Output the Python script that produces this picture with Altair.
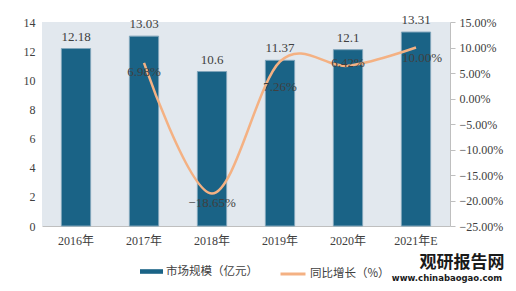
import altair as alt
import pandas as pd

years = ["2016年", "2017年", "2018年", "2019年", "2020年", "2021年E"]
market = [12.18, 13.03, 10.6, 11.37, 12.1, 13.31]
market_labels = ["12.18", "13.03", "10.6", "11.37", "12.1", "13.31"]
growth = [None, 6.98, -18.65, 7.26, 6.42, 10.00]

df = pd.DataFrame({"year": years, "market": market, "mlabel": market_labels, "growth": growth})

SERIF = "'Liberation Serif', 'Noto Sans CJK SC'"
CJK = "'Noto Sans CJK SC'"
BAR = "#1a6386"
LINE = "#f4b183"
TXT = "#404040"

x = alt.X("year:N", sort=years, title=None,
          scale=alt.Scale(paddingInner=0.57, paddingOuter=0.285),
          axis=alt.Axis(labelAngle=0, ticks=False, domainColor="#bfbfbf",
                        labelPadding=9, labelFont=SERIF, labelFontSize=12, labelColor=TXT))

yscale = alt.Scale(domain=[0, 14], nice=False)
yaxis = alt.Axis(values=[0, 2, 4, 6, 8, 10, 12, 14], format="d", labelOverlap=False,
                 ticks=False, domain=False, grid=False,
                 labelPadding=7, labelFont=SERIF, labelFontSize=12, labelColor=TXT)
ybar = alt.Y("market:Q", title=None, scale=yscale, axis=yaxis)

base = alt.Chart(df)

bars = base.mark_bar(color=BAR, stroke="#7fa5ba", strokeWidth=1).encode(
    x=x, y=ybar,
    fill=alt.Fill("s:N", scale=alt.Scale(domain=["市场规模（亿元）"], range=[BAR]),
                  legend=alt.Legend(orient="none", legendX=98, legendY=238, title=None,
                                    symbolType="M-1,-0.2H1V0.2H-1Z", symbolSize=529,
                                    symbolStrokeWidth=0, labelFont=CJK, labelFontSize=11.5,
                                    labelColor=TXT, padding=0, labelOffset=3)),
).transform_calculate(s="'市场规模（亿元）'")

bar_text = base.mark_text(baseline="bottom", dy=-5, font=SERIF, fontSize=13, color=TXT).encode(
    x=x, y=ybar, text="mlabel:N")

left = alt.layer(bars, bar_text)

yline = alt.Y("growth:Q", title=None, scale=alt.Scale(domain=[-25, 15], nice=False),
              axis=alt.Axis(orient="right", values=[15, 10, 5, 0, -5, -10, -15, -20, -25],
                            labelExpr="format(datum.value, '.2f') + '%'", grid=False,
                            ticks=True, tickSize=5, tickColor="#bfbfbf", domainColor="#bfbfbf",
                            labelPadding=4, labelFont=SERIF, labelFontSize=12, labelColor=TXT))

lbase = base.transform_filter("isValid(datum.growth)").transform_calculate(
    glabel="format(datum.growth, '.2f') + '%'", s2="'同比增长（%）'")

line = lbase.mark_line(interpolate="cardinal", strokeWidth=2.5).encode(
    x=x, y=yline,
    stroke=alt.Stroke("s2:N", scale=alt.Scale(domain=["同比增长（%）"], range=[LINE]),
                      legend=alt.Legend(orient="none", legendX=237, legendY=238, title=None,
                                        symbolType="stroke", symbolSize=625, symbolStrokeWidth=3,
                                        labelFont=CJK, labelFontSize=11.5, labelColor=TXT,
                                        padding=0, labelOffset=3)),
)

t1 = lbase.transform_filter("datum.year == '2017年' || datum.year == '2018年'") \
    .mark_text(baseline="middle", dy=9, font=SERIF, fontSize=13, color=TXT).encode(
    x=x, y=yline, text="glabel:N")
t1b = lbase.transform_filter("datum.year == '2021年E'") \
    .mark_text(baseline="middle", dy=10, dx=6, font=SERIF, fontSize=13, color=TXT).encode(
    x=x, y=yline, text="glabel:N")
t2 = lbase.transform_filter("datum.year == '2019年'") \
    .mark_text(baseline="middle", dy=26, font=SERIF, fontSize=13, color=TXT).encode(
    x=x, y=yline, text="glabel:N")
t3 = lbase.transform_filter("datum.year == '2020年'") \
    .mark_text(baseline="middle", dy=-3, font=SERIF, fontSize=13, color=TXT).encode(
    x=x, y=yline, text="glabel:N")

right = alt.layer(line, t1, t1b, t2, t3)

wm = alt.Chart(pd.DataFrame({"t": ["观研报告网"]})).mark_text(
    font=CJK, fontSize=17, fontWeight="bold", color="#1a1a1a", align="center", baseline="middle"
).encode(x=alt.value(420), y=alt.value(241), text="t:N")
wm2 = alt.Chart(pd.DataFrame({"t": ["www.chinabaogao.com"]})).mark_text(
    font="'DejaVu Sans'", fontSize=8.5, fontWeight="bold", color="#1a1a1a", align="center", baseline="middle"
).encode(x=alt.value(405), y=alt.value(256), text="t:N")

chart = alt.layer(left, right, wm, wm2).resolve_scale(
    y="independent", fill="independent", stroke="independent"
).properties(
    width=408, height=204,
    padding={"left": 34, "top": 14, "right": 58, "bottom": 57},
    autosize=alt.AutoSizeParams(type="none"),
    background="#ffffff",
).configure_view(stroke=None, fill="#e2e8ee")

chart.save("out.html", embed_options={"renderer": "svg", "actions": False})
